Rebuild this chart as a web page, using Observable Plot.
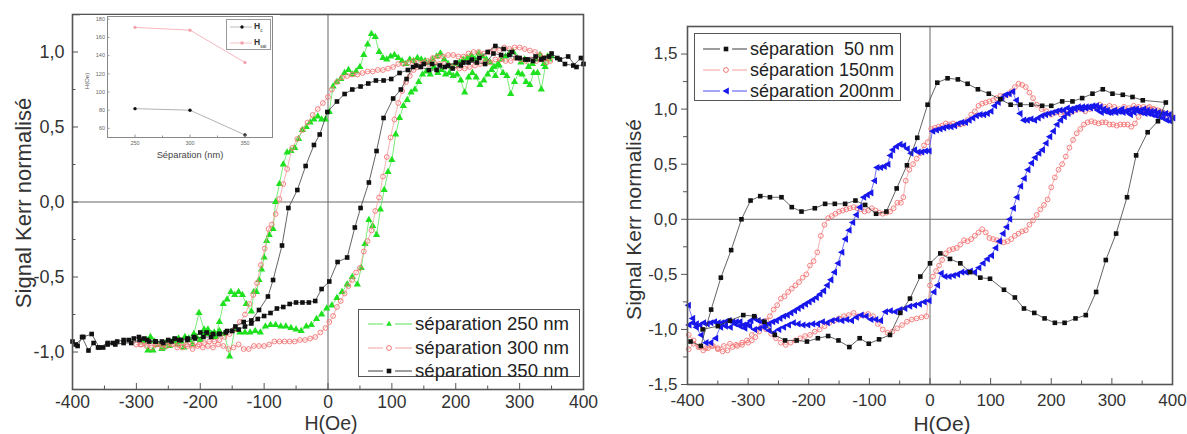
<!DOCTYPE html>
<html><head><meta charset="utf-8">
<script src="https://cdn.jsdelivr.net/npm/d3@7"></script>
<script src="https://cdn.jsdelivr.net/npm/@observablehq/plot@0.6"></script>
<style>
body{margin:0;background:#fff;}
#wrap{position:relative;width:1187px;height:434px;overflow:hidden;font-family:"Liberation Sans",Arial,sans-serif;}
#wrap > svg{position:absolute;}
.legend{position:absolute;border:1.5px solid #555;background:#fff;box-sizing:border-box;}
.row{position:absolute;left:0;white-space:pre;color:#222;}
.row svg{position:absolute;top:0;}
.row span{position:absolute;top:0;}
</style></head><body><div id="wrap"></div>
<script>
// ---------- tick values ----------
const H_TICKS = [-400,-300,-200,-100,0,100,200,300,400];
const H_MINOR = [-350,-250,-150,-50,50,150,250,350];
const K_TICKS_L = [-1,-0.5,0,0.5,1];
const K_MINOR_L = [-0.75,-0.25,0.25,0.75];
const K_TICKS_R = [-1.5,-1,-0.5,0,0.5,1,1.5];
const K_MINOR_R = [-1.25,-0.75,-0.25,0.25,0.75,1.25];
const SEP_TICKS = [250,300,350];
const SEP_MINOR = [275,325];
const HOE_TICKS = [60,80,100,120,140,160,180];

// ---------- left panel: [H (Oe), normalised Kerr signal] along the field sweep ----------
const sep250 = [[-290,-0.93],[-282,-0.99],[-274,-0.99],[-266,-0.95],[-258,-0.97],[-250,-0.95],[-242,-0.92],[-234,-0.91],[-226,-0.97],[-218,-0.91],[-210,-0.88],[-202,-0.74],[-194,-0.85],[-186,-0.88],[-178,-0.87],[-170,-0.86],[-162,-0.88],[-154,-1.03],[-146,-0.85],[-138,-0.87],[-130,-0.87],[-122,-0.87],[-114,-0.86],[-106,-0.87],[-98,-0.83],[-90,-0.82],[-82,-0.82],[-74,-0.83],[-66,-0.83],[-58,-0.84],[-50,-0.85],[-42,-0.86],[-34,-0.83],[-26,-0.82],[-18,-0.78],[-10,-0.75],[-2,-0.71],[6,-0.69],[14,-0.64],[22,-0.6],[30,-0.55],[38,-0.5],[46,-0.55],[52,-0.44],[58,-0.28],[64,-0.12],[70,-0.16],[76,-0.22],[82,-0.05],[88,0.08],[94,0.2],[100,0.28],[106,0.45],[112,0.56],[118,0.64],[124,0.68],[130,0.73],[136,0.75],[142,0.8],[148,0.85],[154,0.87],[160,0.85],[166,0.9],[172,0.86],[178,0.88],[184,0.85],[190,0.86],[196,0.84],[202,0.85],[208,0.81],[214,0.73],[220,0.83],[226,0.86],[232,0.83],[238,0.78],[244,0.81],[250,0.85],[256,0.88],[262,0.84],[268,0.91],[274,0.86],[280,0.84],[286,0.72],[292,0.8],[298,0.86],[304,0.85],[310,0.8],[316,0.78],[322,0.86],[328,0.86],[334,0.75],[340,0.9],[346,0.95],[350,0.97],
[344,0.97],[338,0.92],[332,0.98],[326,0.95],[320,0.92],[314,0.9],[308,0.95],[302,0.93],[296,0.96],[290,1.0],[284,0.99],[278,0.97],[272,0.95],[266,0.92],[260,0.9],[254,0.93],[248,0.95],[242,0.97],[236,0.99],[230,0.95],[224,0.98],[218,0.96],[212,0.95],[206,0.93],[200,0.92],[194,0.9],[188,0.92],[182,0.95],[176,0.99],[170,0.97],[164,0.95],[158,0.93],[152,0.94],[146,0.95],[140,0.96],[134,0.94],[128,0.95],[122,0.92],[116,0.94],[110,0.96],[104,0.98],[98,0.97],[92,0.95],[86,0.96],[80,1.0],[74,1.1],[68,1.12],[62,1.05],[56,0.98],[50,0.9],[44,0.87],[38,0.85],[32,0.88],[26,0.86],[20,0.82],[14,0.8],[8,0.77],[2,0.6],[-4,0.55],[-10,0.55],[-16,0.57],[-22,0.55],[-28,0.53],[-34,0.5],[-40,0.48],[-46,0.42],[-52,0.36],[-58,0.34],[-64,0.33],[-70,0.25],[-76,0.12],[-82,0.0],[-86,-0.18],[-92,-0.22],[-96,-0.26],[-100,-0.37],[-104,-0.45],[-108,-0.52],[-112,-0.6],[-116,-0.6],[-120,-0.73],[-128,-0.68],[-134,-0.62],[-140,-0.6],[-146,-0.62],[-152,-0.6],[-158,-0.65],[-164,-0.68],[-170,-0.8],[-176,-0.9],[-182,-0.88],[-188,-0.85],[-194,-0.88],[-200,-0.92],[-206,-0.9],[-212,-0.95],[-218,-0.92],[-224,-0.9],[-230,-0.93],[-236,-0.95],[-242,-0.93],[-248,-0.96],[-254,-0.94],[-260,-0.98],[-266,-0.95],[-272,-0.93],[-278,-0.9],[-284,-0.92]];

const sep300 = [[-300,-0.95],[-292,-0.95],[-284,-0.96],[-276,-0.97],[-268,-0.95],[-260,-0.97],[-252,-0.96],[-244,-0.95],[-236,-0.97],[-228,-0.97],[-220,-0.96],[-212,-0.98],[-204,-0.96],[-196,-0.97],[-188,-0.96],[-180,-0.97],[-172,-0.95],[-164,-0.96],[-156,-0.98],[-148,-0.97],[-140,-0.95],[-132,-0.98],[-124,-0.98],[-116,-0.96],[-108,-0.96],[-100,-0.96],[-92,-0.95],[-84,-0.93],[-76,-0.93],[-68,-0.93],[-60,-0.93],[-52,-0.93],[-44,-0.92],[-36,-0.92],[-28,-0.91],[-20,-0.9],[-12,-0.87],[-4,-0.84],[2,-0.8],[8,-0.76],[14,-0.7],[20,-0.66],[26,-0.61],[32,-0.56],[38,-0.52],[44,-0.47],[50,-0.44],[56,-0.33],[62,-0.26],[68,-0.19],[74,-0.06],[80,0.03],[86,0.17],[92,0.3],[98,0.43],[104,0.55],[110,0.66],[116,0.74],[122,0.8],[128,0.84],[134,0.88],[140,0.9],[148,0.92],[156,0.94],[164,0.96],[172,0.97],[180,0.97],[188,0.98],[196,0.98],[204,0.97],[212,0.97],[220,0.99],[228,1.0],[236,1.0],[244,0.99],[252,1.0],[260,1.02],[268,1.01],[276,1.03],[284,1.02],[292,1.03],[300,1.03],[308,1.02],[316,1.01],[324,1.0],[332,0.98],[340,0.96],[348,0.94],
[342,0.93],[334,0.95],[326,0.94],[318,0.95],[310,0.94],[302,0.95],[294,0.96],[286,0.94],[278,0.94],[270,0.95],[262,0.95],[254,0.93],[246,0.94],[238,0.92],[230,0.91],[222,0.9],[214,0.89],[206,0.89],[198,0.9],[190,0.91],[182,0.92],[174,0.92],[166,0.93],[158,0.92],[150,0.93],[142,0.93],[134,0.94],[126,0.93],[118,0.92],[110,0.92],[102,0.9],[94,0.89],[86,0.88],[78,0.88],[70,0.87],[62,0.87],[54,0.86],[46,0.85],[38,0.85],[30,0.84],[22,0.83],[14,0.8],[6,0.75],[0,0.7],[-8,0.66],[-16,0.62],[-24,0.58],[-32,0.53],[-40,0.48],[-48,0.42],[-56,0.36],[-64,0.22],[-70,0.12],[-76,0.02],[-82,-0.08],[-88,-0.15],[-93,-0.18],[-99,-0.31],[-105,-0.42],[-111,-0.54],[-117,-0.62],[-123,-0.68],[-130,-0.75],[-138,-0.8],[-146,-0.85],[-154,-0.88],[-162,-0.9],[-170,-0.92],[-178,-0.93],[-186,-0.93],[-194,-0.94],[-202,-0.95],[-212,-0.95],[-222,-0.95],[-234,-0.95],[-246,-0.94],[-258,-0.95],[-270,-0.95],[-282,-0.94],[-294,-0.95]];

const sep350 = [[-400,-0.93],[-392,-0.96],[-385,-0.9],[-375,-0.99],[-367,-0.94],[-360,-0.97],[-352,-0.97],[-345,-0.95],[-337,-0.94],[-330,-0.93],[-320,-0.92],[-312,-0.92],[-304,-0.91],[-296,-0.9],[-288,-0.91],[-280,-0.93],[-270,-0.93],[-260,-0.93],[-250,-0.92],[-240,-0.91],[-230,-0.92],[-220,-0.91],[-210,-0.9],[-200,-0.87],[-190,-0.87],[-180,-0.88],[-170,-0.88],[-160,-0.87],[-150,-0.86],[-140,-0.85],[-130,-0.83],[-120,-0.81],[-110,-0.78],[-100,-0.76],[-90,-0.74],[-80,-0.71],[-70,-0.7],[-60,-0.68],[-50,-0.67],[-40,-0.67],[-30,-0.67],[-20,-0.66],[-10,-0.58],[2,-0.53],[15,-0.4],[30,-0.37],[42,-0.17],[51,-0.04],[64,0.13],[76,0.34],[87,0.56],[102,0.69],[114,0.75],[123,0.82],[133,0.9],[145,0.9],[158,0.88],[170,0.88],[183,0.9],[195,0.89],[208,0.91],[220,0.93],[233,0.93],[246,0.92],[259,0.99],[271,0.98],[284,0.98],[296,0.96],[309,0.95],[321,0.94],[334,0.95],[346,0.97],[359,0.96],[371,0.92],[384,0.91],[396,0.96],
[400,0.92],[389,0.9],[376,0.97],[363,0.95],[350,0.99],[338,0.96],[325,0.97],[313,0.95],[300,0.96],[288,1.0],[275,1.02],[262,1.04],[250,1.0],[237,0.96],[225,0.95],[212,0.93],[200,0.93],[188,0.91],[175,0.91],[163,0.92],[150,0.92],[138,0.91],[125,0.88],[112,0.86],[99,0.82],[87,0.81],[75,0.81],[63,0.79],[51,0.77],[38,0.75],[26,0.72],[14,0.67],[-1,0.6],[-13,0.45],[-22,0.38],[-35,0.24],[-48,0.08],[-62,-0.04],[-72,-0.29],[-86,-0.52],[-94,-0.63],[-108,-0.72],[-120,-0.79],[-132,-0.8],[-145,-0.83],[-158,-0.86],[-170,-0.88],[-183,-0.9],[-195,-0.9],[-208,-0.91],[-220,-0.92],[-233,-0.92],[-245,-0.93],[-258,-0.94],[-270,-0.93],[-283,-0.92],[-295,-0.92],[-308,-0.94],[-320,-0.94],[-333,-0.95],[-345,-0.94],[-358,-0.97],[-370,-0.88],[-383,-0.9],[-395,-0.95]];

// ---------- right panel ----------
const sep50 = [[-395,-1.11],[-378,-1.15],[-361,-0.82],[-345,-0.53],[-328,-0.28],[-311,0.0],[-296,0.17],[-280,0.21],[-264,0.2],[-245,0.2],[-228,0.11],[-212,0.07],[-190,0.1],[-173,0.14],[-157,0.14],[-140,0.14],[-123,0.17],[-107,0.13],[-89,0.05],[-72,0.07],[-55,0.28],[-38,0.49],[-21,0.74],[-4,1.04],[12,1.24],[29,1.28],[46,1.27],[62,1.23],[79,1.18],[97,1.14],[116,1.09],[133,1.04],[149,1.04],[167,1.04],[185,1.03],[200,1.03],[218,1.07],[235,1.07],[251,1.1],[268,1.14],[285,1.18],[301,1.14],[318,1.13],[334,1.11],[351,1.08],[389,1.06],
[376,0.89],[359,0.79],[340,0.58],[325,0.2],[307,-0.13],[290,-0.37],[274,-0.66],[257,-0.87],[240,-0.9],[222,-0.94],[206,-0.94],[189,-0.9],[172,-0.85],[155,-0.81],[140,-0.71],[122,-0.64],[99,-0.54],[83,-0.53],[66,-0.48],[50,-0.4],[33,-0.36],[17,-0.31],[0,-0.4],[-16,-0.52],[-33,-0.72],[-49,-0.85],[-66,-1.05],[-84,-1.09],[-101,-1.13],[-116,-1.08],[-133,-1.16],[-151,-1.1],[-168,-1.06],[-185,-1.08],[-203,-1.11],[-220,-1.1],[-239,-1.1],[-256,-1.05],[-273,-0.93],[-290,-0.88],[-308,-0.87],[-330,-0.92],[-350,-0.97],[-375,-1.0]];

const sep150 = [[-398,-1.18],[-390,-1.13],[-382,-1.16],[-374,-1.19],[-366,-1.17],[-358,-1.15],[-350,-1.18],[-342,-1.2],[-334,-1.19],[-326,-1.16],[-318,-1.15],[-310,-1.14],[-302,-1.1],[-294,-1.05],[-286,-1.0],[-278,-0.97],[-270,-1.0],[-262,-1.04],[-254,-1.08],[-246,-1.12],[-238,-1.14],[-230,-1.12],[-222,-1.1],[-214,-1.08],[-206,-1.06],[-198,-1.05],[-190,-1.02],[-182,-1.0],[-174,-0.97],[-166,-0.94],[-158,-0.92],[-150,-0.9],[-142,-0.88],[-134,-0.87],[-126,-0.85],[-118,-0.88],[-110,-0.87],[-102,-0.86],[-94,-0.88],[-86,-0.95],[-78,-1.0],[-70,-1.03],[-62,-1.02],[-54,-0.99],[-46,-0.96],[-38,-0.93],[-30,-0.91],[-22,-0.9],[-14,-0.89],[-6,-0.88],[0,-0.6],[5,-0.52],[10,-0.47],[15,-0.42],[20,-0.37],[26,-0.31],[32,-0.28],[38,-0.27],[44,-0.26],[50,-0.23],[56,-0.19],[62,-0.2],[68,-0.18],[74,-0.15],[80,-0.12],[86,-0.09],[92,-0.12],[98,-0.17],[104,-0.18],[110,-0.19],[116,-0.2],[122,-0.21],[128,-0.2],[134,-0.18],[140,-0.15],[146,-0.13],[152,-0.11],[158,-0.1],[164,-0.05],[170,-0.01],[176,0.04],[182,0.09],[188,0.13],[194,0.18],[200,0.29],[206,0.38],[212,0.45],[218,0.5],[224,0.57],[230,0.65],[236,0.72],[242,0.78],[248,0.82],[254,0.86],[260,0.88],[266,0.89],[272,0.88],[278,0.87],[284,0.88],[290,0.88],[296,0.86],[302,0.86],[308,0.85],[314,0.86],[320,0.86],[326,0.86],[332,0.84],[338,0.87],[344,0.93],[350,0.97],[356,1.0],[362,1.02],[370,1.0],[380,0.98],[390,0.95],[398,0.94],
[392,0.96],[384,0.97],[376,0.99],[368,1.0],[360,1.01],[352,1.02],[344,1.02],[336,1.03],[328,1.01],[320,1.02],[312,1.0],[304,1.02],[296,1.03],[288,1.02],[280,1.04],[272,1.02],[264,1.0],[256,0.98],[248,1.0],[240,0.99],[232,0.97],[224,0.96],[216,0.95],[208,0.97],[200,0.95],[192,0.98],[184,1.0],[176,1.04],[170,1.1],[164,1.15],[158,1.2],[152,1.22],[146,1.23],[140,1.2],[134,1.16],[128,1.13],[122,1.12],[116,1.12],[110,1.1],[104,1.08],[98,1.07],[92,1.06],[86,1.05],[80,1.03],[74,0.98],[68,0.95],[62,0.9],[56,0.87],[50,0.86],[44,0.86],[38,0.87],[32,0.86],[26,0.87],[20,0.85],[14,0.84],[8,0.83],[2,0.82],[-4,0.7],[-10,0.67],[-16,0.6],[-22,0.55],[-28,0.5],[-34,0.45],[-40,0.35],[-44,0.2],[-48,0.15],[-54,0.15],[-60,0.1],[-66,0.07],[-72,0.06],[-78,0.05],[-84,0.06],[-90,0.08],[-96,0.1],[-102,0.08],[-108,0.07],[-114,0.09],[-120,0.1],[-126,0.11],[-132,0.1],[-138,0.09],[-144,0.08],[-150,0.07],[-156,0.05],[-162,0.03],[-168,0.01],[-174,-0.05],[-180,-0.15],[-186,-0.3],[-192,-0.38],[-198,-0.42],[-204,-0.5],[-210,-0.53],[-216,-0.57],[-222,-0.6],[-228,-0.63],[-234,-0.66],[-240,-0.7],[-246,-0.72],[-252,-0.78],[-258,-0.82],[-264,-0.88],[-270,-0.92],[-276,-0.98],[-282,-1.02],[-288,-1.07],[-294,-1.1],[-300,-1.12],[-310,-1.12],[-320,-1.14],[-330,-1.13],[-340,-1.15],[-350,-1.17],[-360,-1.15],[-370,-1.17],[-380,-1.16],[-390,-1.1],[-398,-1.05]];

const sep200 = [[-399,-0.78],[-392,-0.9],[-386,-0.98],[-378,-1.05],[-370,-1.12],[-362,-1.12],[-354,-1.08],[-346,-0.98],[-338,-0.97],[-330,-0.98],[-322,-0.95],[-314,-0.97],[-306,-0.99],[-298,-0.97],[-290,-1.0],[-282,-0.99],[-274,-0.98],[-266,-1.01],[-258,-1.03],[-250,-1.0],[-242,-0.98],[-234,-0.96],[-226,-0.94],[-218,-0.95],[-210,-0.96],[-202,-0.96],[-194,-0.95],[-186,-0.95],[-178,-0.93],[-170,-0.94],[-162,-0.92],[-154,-0.91],[-146,-0.92],[-138,-0.91],[-130,-0.92],[-122,-0.89],[-114,-0.87],[-106,-0.88],[-98,-0.91],[-90,-0.91],[-82,-0.92],[-74,-0.84],[-66,-0.83],[-58,-0.84],[-50,-0.82],[-42,-0.81],[-34,-0.79],[-26,-0.78],[-18,-0.77],[-10,-0.75],[-2,-0.74],[6,-0.66],[12,-0.6],[18,-0.49],[24,-0.52],[31,-0.52],[38,-0.51],[45,-0.5],[52,-0.48],[59,-0.48],[66,-0.47],[73,-0.48],[80,-0.44],[87,-0.4],[94,-0.36],[101,-0.33],[108,-0.26],[114,-0.2],[120,-0.13],[126,-0.07],[131,0.0],[137,0.1],[143,0.2],[149,0.3],[155,0.37],[161,0.45],[167,0.51],[173,0.56],[179,0.6],[185,0.63],[191,0.69],[197,0.75],[203,0.8],[209,0.86],[215,0.9],[221,0.93],[227,0.96],[233,0.98],[239,1.0],[245,1.01],[251,1.02],[257,1.02],[264,1.01],[270,1.02],[276,0.99],[282,0.97],[288,0.98],[294,0.97],[300,0.98],[306,0.97],[312,0.98],[318,0.97],[324,0.98],[330,0.95],[336,0.97],[342,0.98],[348,0.97],[354,0.96],[360,0.96],[366,0.95],[372,0.94],[378,0.93],[384,0.92],[390,0.9],[396,0.89],
[400,0.92],[394,0.95],[388,0.96],[382,0.96],[376,0.97],[370,0.98],[364,0.98],[358,0.99],[352,1.0],[346,0.99],[340,1.0],[334,1.0],[328,0.99],[322,0.98],[316,1.0],[310,0.98],[304,0.99],[298,0.97],[292,0.99],[286,1.0],[280,1.02],[274,1.03],[268,1.03],[262,1.02],[256,1.01],[250,1.0],[244,1.02],[238,1.01],[232,1.0],[226,1.01],[220,0.99],[214,0.99],[208,0.98],[202,0.97],[196,0.96],[190,0.95],[184,0.94],[178,0.92],[172,0.9],[166,0.91],[160,0.9],[154,0.9],[148,0.96],[142,1.08],[136,1.16],[130,1.14],[124,1.13],[118,1.1],[112,1.06],[106,1.03],[100,0.98],[94,0.96],[88,0.95],[82,0.95],[76,0.94],[70,0.92],[64,0.9],[58,0.88],[52,0.88],[46,0.87],[40,0.85],[34,0.84],[28,0.84],[22,0.83],[16,0.82],[10,0.81],[4,0.8],[-2,0.62],[-8,0.62],[-14,0.61],[-20,0.61],[-26,0.63],[-32,0.6],[-38,0.64],[-44,0.67],[-50,0.68],[-56,0.66],[-62,0.63],[-66,0.58],[-70,0.5],[-76,0.48],[-82,0.47],[-88,0.47],[-92,0.35],[-98,0.24],[-104,0.22],[-110,0.2],[-116,0.11],[-122,0.04],[-128,-0.03],[-134,-0.1],[-140,-0.18],[-146,-0.3],[-152,-0.4],[-158,-0.48],[-164,-0.55],[-170,-0.6],[-176,-0.65],[-182,-0.68],[-188,-0.71],[-194,-0.73],[-200,-0.75],[-206,-0.77],[-212,-0.79],[-218,-0.81],[-224,-0.83],[-230,-0.85],[-236,-0.87],[-242,-0.88],[-248,-0.9],[-254,-0.92],[-260,-0.93],[-266,-0.95],[-272,-0.96],[-278,-0.93],[-284,-0.92],[-290,-0.9],[-296,-0.92],[-302,-0.95],[-308,-0.96],[-314,-0.93],[-320,-0.93],[-326,-0.93],[-332,-0.92],[-338,-0.93],[-344,-0.94],[-350,-0.94],[-356,-0.93],[-362,-0.94],[-368,-0.95],[-374,-0.94],[-380,-0.96],[-386,-0.95],[-392,-0.94],[-398,-0.96]];

// ---------- inset: coercive / saturation field vs separation ----------
const insetSep = [250,300,350];
const insetHc = [81.7,80,52.8];
const insetHsat = [171,168,132.4];

// ---------- series labels ----------
const leftNames = ["séparation 250 nm","séparation 300 nm","séparation 350 nm"];
const rightNames = ["séparation  50 nm","séparation 150nm","séparation 200nm"];
const insetNames = [["H","c"],["H","sat"]];

// ---------- drawing ----------
const FONT = "Liberation Sans, Arial, sans-serif";
const triLeft = {draw(ctx, size) {
  const r = Math.sqrt(size / 1.3);
  ctx.moveTo(-r * 0.95, 0); ctx.lineTo(r * 0.75, -r * 0.95); ctx.lineTo(r * 0.75, r * 0.95); ctx.closePath();
}};
const STY = {
  green: {marker:"#1fe11f", line:"#58e458", symbol:"triangle", r:2.7, hollow:false},
  pink:  {marker:"#f37474", line:"#f5a0a0", symbol:"circle", r:2.4, hollow:true},
  black: {marker:"#111111", line:"#3c3c3c", symbol:"square", r:2.6, hollow:false},
  blue:  {marker:"#1717ec", line:"#4f4ff2", symbol:triLeft, r:2.4, hollow:false}
};
const fmtK = d => d.toFixed(1).replace(".", ",");

function seriesMarks(data, st) {
  return [
    Plot.line(data, {x: d => d[0], y: d => d[1], stroke: st.line, strokeWidth: 0.8}),
    Plot.dot(data, {x: d => d[0], y: d => d[1], symbol: st.symbol, r: st.r,
      fill: st.hollow ? "none" : st.marker, stroke: st.hollow ? st.marker : "none", strokeWidth: 0.9})
  ];
}

const wrap = document.getElementById("wrap");

const left = Plot.plot({
  width: 600, height: 434, marginLeft: 72, marginRight: 17, marginTop: 14, marginBottom: 45,
  x: {domain: [-400, 400]}, y: {domain: [-1.25, 1.25]},
  style: {fontFamily: FONT, background: "transparent", color: "#333"},
  marks: [
    Plot.ruleX([0], {stroke: "#666", strokeWidth: 1}),
    Plot.ruleY([0], {stroke: "#666", strokeWidth: 1}),
    ...seriesMarks(sep250, STY.green),
    ...seriesMarks(sep300, STY.pink),
    ...seriesMarks(sep350, STY.black),
    Plot.frame({stroke: "#555", strokeWidth: 1.6}),
    Plot.axisX(H_TICKS, {tickSize: -6, tickPadding: 12, tickFormat: d => String(d), fontSize: 17.5, label: null, stroke: "#555"}),
    Plot.axisX(H_MINOR, {tickSize: -3.5, tickFormat: () => "", label: null, stroke: "#555"}),
    Plot.axisY(K_TICKS_L, {tickSize: -6, tickPadding: 14, tickFormat: fmtK, fontSize: 18, label: null, stroke: "#555"}),
    Plot.axisY(K_MINOR_L, {tickSize: -3.5, tickFormat: () => "", label: null, stroke: "#555"}),
    Plot.text(["H(Oe)"], {frameAnchor: "bottom", lineAnchor: "middle", textAnchor: "middle", dy: 34, dx: 3, fontSize: 19.5, fill: "#333"}),
    Plot.text(["Signal Kerr normalisé"], {frameAnchor: "left", textAnchor: "middle", lineAnchor: "middle", rotate: -90, dx: -49, dy: 1, fontSize: 22, fill: "#333"})
  ]
});
left.style.left = "0px"; left.style.top = "0px";
wrap.appendChild(left);

const right = Plot.plot({
  width: 587, height: 434, marginLeft: 87, marginRight: 15, marginTop: 26, marginBottom: 50,
  x: {domain: [-400, 400]}, y: {domain: [-1.5, 1.75]},
  style: {fontFamily: FONT, background: "transparent", color: "#333"},
  marks: [
    Plot.ruleX([0], {stroke: "#666", strokeWidth: 1}),
    Plot.ruleY([0], {stroke: "#666", strokeWidth: 1}),
    ...seriesMarks(sep150, STY.pink),
    ...seriesMarks(sep200, STY.blue),
    ...seriesMarks(sep50, STY.black),
    Plot.frame({stroke: "#555", strokeWidth: 1.6}),
    Plot.axisX(H_TICKS, {tickSize: -6, tickPadding: 15, tickFormat: d => String(d), fontSize: 17, label: null, stroke: "#555"}),
    Plot.axisX(H_MINOR, {tickSize: -3.5, tickFormat: () => "", label: null, stroke: "#555"}),
    Plot.axisY(K_TICKS_R, {tickSize: 6, tickPadding: 4, tickFormat: fmtK, fontSize: 17, label: null, stroke: "#555"}),
    Plot.axisY(K_MINOR_R, {tickSize: 4, tickFormat: () => "", label: null, stroke: "#555"}),
    Plot.text(["H(Oe)"], {frameAnchor: "bottom", lineAnchor: "middle", textAnchor: "middle", dy: 40, dx: 12, fontSize: 21, fill: "#333"}),
    Plot.text(["Signal Kerr normalisé"], {frameAnchor: "left", textAnchor: "middle", lineAnchor: "middle", rotate: -90, dx: -53, dy: 14, fontSize: 21, fill: "#333"})
  ]
});
right.style.left = "600px"; right.style.top = "0px";
wrap.appendChild(right);

// inset
const insetHcData = insetSep.map((s, i) => [s, insetHc[i]]);
const insetHsatData = insetSep.map((s, i) => [s, insetHsat[i]]);
const inset = Plot.plot({
  width: 200, height: 150, marginLeft: 27, marginRight: 8, marginTop: 1, marginBottom: 28,
  x: {domain: [225, 375]}, y: {domain: [50, 183]},
  style: {fontFamily: FONT, background: "white", color: "#666"},
  marks: [
    Plot.line(insetHsatData, {x: d => d[0], y: d => d[1], stroke: "#f4b0b8", strokeWidth: 0.9}),
    Plot.dot(insetHsatData, {x: d => d[0], y: d => d[1], r: 1.6, fill: "#f4a0ac"}),
    Plot.line(insetHcData, {x: d => d[0], y: d => d[1], stroke: "#aaa", strokeWidth: 0.9}),
    Plot.dot(insetHcData, {x: d => d[0], y: d => d[1], r: 1.7, fill: "#111"}),
    Plot.frame({stroke: "#888", strokeWidth: 1}),
    Plot.axisX(SEP_TICKS, {tickSize: -2.5, tickPadding: 6, tickFormat: d => String(d), fontSize: 5.5, label: null, stroke: "#999"}),
    Plot.axisX(SEP_MINOR, {tickSize: -1.5, tickFormat: () => "", label: null, stroke: "#999"}),
    Plot.axisY(HOE_TICKS, {tickSize: -2.5, tickPadding: 5, tickFormat: d => String(d), fontSize: 5.5, label: null, stroke: "#999"}),
    Plot.text(["Séparation (nm)"], {frameAnchor: "bottom", lineAnchor: "middle", textAnchor: "middle", dy: 18, fontSize: 9.3, fill: "#444"}),
    Plot.text(["H(Oe)"], {frameAnchor: "left", textAnchor: "middle", lineAnchor: "middle", rotate: -90, dx: -20, dy: 4, fontSize: 6, fill: "#555"})
  ]
});
inset.style.left = "80px"; inset.style.top = "15px";
wrap.appendChild(inset);

// legends (HTML boxes with symbols drawn by d3.symbol)
function symbolPath(st) {
  const type = st.symbol === "triangle" ? d3.symbolTriangle2 : st.symbol === "circle" ? d3.symbolCircle
    : st.symbol === "square" ? d3.symbolSquare : st.symbol;
  return d3.symbol(type, Math.PI * st.r * st.r)();
}
function makeLegend(box, rows) {
  const div = document.createElement("div");
  div.className = "legend";
  Object.assign(div.style, {left: box.left + "px", top: box.top + "px", width: box.width + "px", height: box.height + "px"});
  rows.forEach((row, i) => {
    const r = document.createElement("div");
    r.className = "row";
    const cy = box.rows[i];
    Object.assign(r.style, {top: (cy - 12) + "px", height: "24px", width: box.width + "px"});
    const x0 = box.symX0, x1 = box.symX1, xm = box.symXm, gap = box.gap;
    const svg = d3.create("svg").attr("width", x1 + 4).attr("height", 24).style("left", "0px");
    svg.append("line").attr("x1", x0).attr("x2", xm - gap).attr("y1", 12).attr("y2", 12).attr("stroke", row.st.line).attr("stroke-width", 1);
    svg.append("line").attr("x1", xm + gap).attr("x2", x1).attr("y1", 12).attr("y2", 12).attr("stroke", row.st.line).attr("stroke-width", 1);
    svg.append("path").attr("d", symbolPath(row.st)).attr("transform", `translate(${xm},12)`)
      .attr("fill", row.st.hollow ? "none" : row.st.marker).attr("stroke", row.st.hollow ? row.st.marker : "none");
    r.appendChild(svg.node());
    const span = document.createElement("span");
    span.textContent = row.name;
    Object.assign(span.style, {left: box.textX + "px", fontSize: box.fontSize + "px", lineHeight: "24px"});
    r.appendChild(span);
    div.appendChild(r);
  });
  wrap.appendChild(div);
}
makeLegend({left: 358, top: 309, width: 222, height: 68, rows: [14, 37.5, 60.5], symX0: 9, symX1: 53, symXm: 30, gap: 6, textX: 56, fontSize: 18.6},
  [{name: leftNames[0], st: STY.green}, {name: leftNames[1], st: STY.pink}, {name: leftNames[2], st: STY.black}]);
makeLegend({left: 694, top: 33, width: 207, height: 68, rows: [15, 35.5, 57], symX0: 8, symX1: 52, symXm: 31, gap: 6, textX: 55, fontSize: 18},
  [{name: rightNames[0], st: STY.black}, {name: rightNames[1], st: STY.pink}, {name: rightNames[2], st: STY.blue}]);

// inset legend
(function () {
  const div = document.createElement("div");
  div.className = "legend";
  Object.assign(div.style, {left: "226px", top: "19px", width: "45px", height: "31px", border: "1px solid #999"});
  const cols = [{dot: "#111", line: "#aaa"}, {dot: "#f4a0ac", line: "#f4b0b8"}];
  insetNames.forEach((nm, i) => {
    const cy = [7, 23][i];
    const svg = d3.create("svg").attr("width", 26).attr("height", 10)
      .style("position", "absolute").style("left", "1px").style("top", (cy - 5) + "px");
    svg.append("line").attr("x1", 2).attr("x2", 24).attr("y1", 5).attr("y2", 5).attr("stroke", cols[i].line).attr("stroke-width", 0.8);
    svg.append("circle").attr("cx", 14).attr("cy", 5).attr("r", 1.7).attr("fill", cols[i].dot);
    div.appendChild(svg.node());
    const t = document.createElement("div");
    Object.assign(t.style, {position: "absolute", left: "27px", top: (cy - 6) + "px", fontSize: "8.5px", fontWeight: "bold", color: "#333", lineHeight: "11px", whiteSpace: "nowrap"});
    t.innerHTML = nm[0] + '<sub style="font-size:4.5px;font-weight:normal">' + nm[1] + "</sub>";
    div.appendChild(t);
  });
  wrap.appendChild(div);
})();
</script></body></html>
